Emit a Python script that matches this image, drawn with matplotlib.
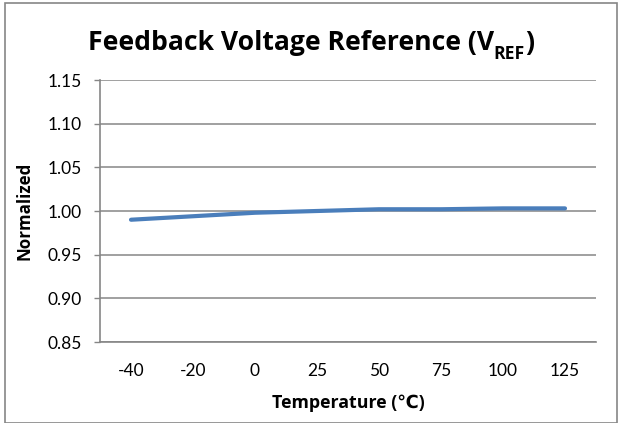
import matplotlib
matplotlib.use("Agg")
import matplotlib.pyplot as plt
from matplotlib.patches import Rectangle

categories = ["-40", "-20", "0", "25", "50", "75", "100", "125"]
values = [0.990, 0.994, 0.998, 1.000, 1.002, 1.002, 1.003, 1.003]
yticks = [0.85, 0.90, 0.95, 1.00, 1.05, 1.10, 1.15]
title_main = "Feedback Voltage Reference (V"
title_sub = "REF"
title_end = ")"

FONT = ["Lato", "DejaVu Sans"]
BOLD = ["Open Sans", "DejaVu Sans"]
plt.rcParams['font.family'] = FONT

W, H = 619, 423
fig = plt.figure(figsize=(W / 100, H / 100), dpi=100)
ax = fig.add_axes([100 / W, 1 - 342 / H, (596 - 100) / W, (342 - 80) / H])

grid_c = "#868686"
x = list(range(len(categories)))
ax.plot(x, values, color="#4A7EBB", lw=3.0, solid_capstyle="round",
        solid_joinstyle="round", zorder=3)

ax.set_xlim(-0.5, len(categories) - 0.5)
ax.set_ylim(0.85, 1.15)
ax.set_yticks(yticks)
ax.set_yticklabels([f"{v:.2f}" for v in yticks], fontsize=12.5)
ax.set_xticks(x)
ax.set_xticklabels(categories, fontsize=12.5)
ax.tick_params(axis="x", length=0, pad=15)
ax.tick_params(axis="y", length=4.3, color=grid_c, width=1, pad=9)
ax.yaxis.grid(True, color=grid_c, lw=1.1)
ax.set_axisbelow(True)
for s in ["top", "right"]:
    ax.spines[s].set_visible(False)
for s in ["left", "bottom"]:
    ax.spines[s].set_color(grid_c)
    ax.spines[s].set_linewidth(1.2)

ylab = fig.text(25 / W, 1 - 211 / H, "Normalized", rotation=90, ha="center",
                va="center", fontsize=11, fontweight="bold", family=BOLD)
xlab = fig.text(348 / W, 1 - 403 / H, "Temperature (\u2103)", ha="center",
                va="center", fontsize=11, fontweight="bold", family=BOLD)

kw = dict(ha="left", va="baseline", fontweight="bold", family=BOLD)
t_main = fig.text(0, 0, title_main, fontsize=16, **kw)
t_sub = fig.text(0, 0, title_sub, fontsize=16 * 0.66, **kw)
t_end = fig.text(0, 0, title_end, fontsize=16, **kw)

fig.canvas.draw()
r = fig.canvas.get_renderer()
for t, target, dim in [(xlab, 153, "w"), (ylab, 98, "h")]:
    bb = t.get_window_extent(r)
    cur = bb.width if dim == "w" else bb.height
    t.set_fontsize(t.get_fontsize() * target / cur)

# title composed of main text + subscript + closing paren
def widths():
    return [t.get_window_extent(r).width for t in (t_main, t_sub, t_end)]

gap = 0.5
wm, ws, we = widths()
scale = 447 / (wm + ws + we + gap)
for t in (t_main, t_sub, t_end):
    t.set_fontsize(t.get_fontsize() * scale)
fig.canvas.draw()
wm, ws, we = widths()
total = wm + ws + we + gap
x0 = 311 - total / 2
base = H - 50
sub_base = H - 59
t_main.set_position((x0 / W, base / H))
t_sub.set_position(((x0 + wm) / W, sub_base / H))
t_end.set_position(((x0 + wm + ws + gap) / W, base / H))

fig.patches.append(Rectangle((5 / W, 0), (617 - 5) / W, 1 - 3 / H,
                             transform=fig.transFigure, fill=False,
                             edgecolor=grid_c, lw=1.2))

fig.savefig("out.png", dpi=100)
